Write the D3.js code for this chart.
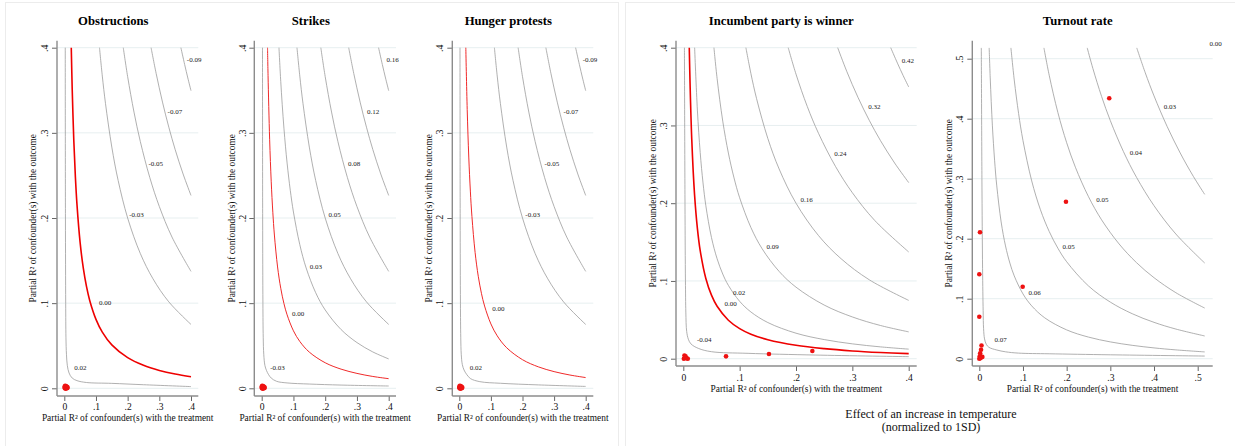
<!DOCTYPE html>
<html><head><meta charset="utf-8">
<script src="https://cdn.jsdelivr.net/npm/d3@7"></script>
<style>
html,body{margin:0;padding:0;background:#fff;}
svg{display:block;font-family:"Liberation Serif","Times New Roman",serif;}
</style></head><body>
<svg id="chart" width="1235" height="446"></svg>
<script>
// ---------------- DATA ----------------
const panelTitles = ["Obstructions", "Strikes", "Hunger protests", "Incumbent party is winner", "Turnout rate"];
const xAxisTitle = "Partial R\u00B2 of confounder(s) with the treatment";
const yAxisTitle = "Partial R\u00B2 of confounder(s) with the outcome";
const footerLines = ["Effect of an increase in temperature", "(normalized to 1SD)"];

const ticks04 = [0, 0.1, 0.2, 0.3, 0.4];
const tickLabels04 = ["0", ".1", ".2", ".3", ".4"];
const ticks05 = [0, 0.1, 0.2, 0.3, 0.4, 0.5];
const tickLabels05 = ["0", ".1", ".2", ".3", ".4", ".5"];

// contour lines shared by the four panels on the [0, .4] grid  ([r2 treatment, r2 outcome])
const gridContour1 = [[0.0544,0.4],[0.06,0.3603],[0.07,0.3056],[0.08,0.2645],[0.09,0.2326],[0.10,0.207],[0.12,0.1687],[0.14,0.1413],[0.17,0.1123],[0.20,0.092],[0.25,0.069],[0.30,0.0537],[0.35,0.0427],[0.40,0.0345]];
const gridContour2 = [[0.1111,0.4],[0.12,0.3667],[0.13,0.3346],[0.15,0.2833],[0.17,0.2441],[0.20,0.20],[0.24,0.1583],[0.28,0.1286],[0.33,0.1015],[0.40,0.075]];
const gridContour3 = [[0.1862,0.4],[0.20,0.366],[0.22,0.3244],[0.24,0.2898],[0.27,0.2474],[0.30,0.2135],[0.34,0.1776],[0.40,0.1373]];
const gridContour4 = [[0.274,0.4],[0.29,0.3697],[0.31,0.3361],[0.33,0.3066],[0.35,0.2804],[0.375,0.2517],[0.40,0.2265]];
const gridContour5 = [[0.3681,0.4],[0.38,0.3802],[0.39,0.3644],[0.40,0.3495]];

// Obstructions
const obstructionsNearAxis = [[0.003,0.4],[0.0036,0.2],[0.0044,0.1],[0.0052,0.06],[0.0068,0.04],[0.0095,0.027],[0.015,0.018],[0.025,0.012],[0.04,0.009],[0.07,0.0068],[0.15,0.0058],[0.25,0.0042],[0.4,0.002]];
const obstructionsZero = [[0.022,0.4],[0.025,0.351],[0.03,0.291],[0.035,0.2481],[0.04,0.216],[0.05,0.171],[0.06,0.141],[0.07,0.1196],[0.08,0.1035],[0.10,0.081],[0.12,0.066],[0.15,0.051],[0.20,0.036],[0.25,0.027],[0.30,0.021],[0.35,0.0167],[0.40,0.0135]];
const obstructionsLevels = ["0.02", "0.00", "-0.03", "-0.05", "-0.07", "-0.09"];
const obstructionsLabelPos = [[0.0504,0.0235],[0.129,0.1004],[0.228,0.204],[0.289,0.264],[0.349,0.324],[0.410,0.385]];
const obstructionsPoints = [[0.002,0.001],[0.004,0.0],[0.006,0.002],[0.008,0.0005],[0.003,0.0025],[0.009,0.001]];

// Strikes
const strikesNearAxis = [[0.0025,0.4],[0.003,0.2],[0.0038,0.1],[0.0048,0.06],[0.0065,0.04],[0.01,0.027],[0.015,0.021],[0.021,0.0165],[0.03,0.012],[0.047,0.0082],[0.08,0.0063],[0.15,0.005],[0.25,0.0038],[0.4,0.0027]];
const strikesZero = [[0.0184,0.4],[0.02,0.3675],[0.025,0.2925],[0.03,0.2425],[0.035,0.2068],[0.04,0.18],[0.05,0.1425],[0.06,0.1175],[0.07,0.0996],[0.08,0.0863],[0.10,0.0675],[0.12,0.055],[0.15,0.0425],[0.20,0.03],[0.25,0.0225],[0.30,0.0175],[0.35,0.0139],[0.40,0.0113]];
const strikesLevels = ["-0.03", "0.00", "0.03", "0.05", "0.08", "0.12", "0.16"];
const strikesLabelPos = [[0.050,0.0235],[0.115,0.0873],[0.171,0.143],[0.230,0.204],[0.291,0.264],[0.351,0.324],[0.412,0.385]];
const strikesPoints = [[0.001,0.001],[0.003,0.0],[0.005,0.002],[0.007,0.0005],[0.002,0.0025],[0.008,0.001]];

// Hunger protests
const hungerNearAxis = [[0.0022,0.4],[0.0028,0.2],[0.0036,0.1],[0.0046,0.06],[0.0062,0.04],[0.0095,0.028],[0.015,0.0215],[0.023,0.0165],[0.035,0.0115],[0.065,0.0078],[0.13,0.0059],[0.25,0.004],[0.4,0.0022]];
const hungerZero = [[0.0206,0.4],[0.025,0.3276],[0.03,0.2716],[0.035,0.2316],[0.04,0.2016],[0.05,0.1596],[0.06,0.1316],[0.07,0.1116],[0.08,0.0966],[0.10,0.0756],[0.12,0.0616],[0.15,0.0476],[0.20,0.0336],[0.25,0.0252],[0.30,0.0196],[0.35,0.0156],[0.40,0.0126]];
const hungerLevels = ["0.02", "0.00", "-0.03", "-0.05", "-0.07", "-0.09"];
const hungerLabelPos = [[0.0528,0.0235],[0.124,0.0933],[0.232,0.204],[0.293,0.264],[0.353,0.324],[0.4136,0.385]];
const hungerPoints = [[0.001,0.001],[0.003,0.0],[0.005,0.002],[0.007,0.0005],[0.002,0.0025],[0.008,0.001]];

// Incumbent party is winner
const incumbentNearAxis = [[0.002,0.4],[0.003,0.2],[0.0038,0.1],[0.0045,0.06],[0.006,0.035],[0.009,0.025],[0.0136,0.019],[0.0266,0.0133],[0.05,0.009],[0.115,0.0069],[0.234,0.0047],[0.4,0.0026]];
const incumbentZero = [[0.0106,0.4],[0.012,0.354],[0.015,0.2824],[0.02,0.2107],[0.025,0.1677],[0.03,0.139],[0.04,0.1032],[0.05,0.0817],[0.06,0.0674],[0.08,0.0495],[0.10,0.0387],[0.12,0.0315],[0.15,0.0244],[0.20,0.0172],[0.25,0.0129],[0.30,0.01],[0.35,0.008],[0.40,0.0065]];
const incumbentLow = [[0.0201,0.4],[0.025,0.3198],[0.03,0.2651],[0.035,0.2261],[0.04,0.1968],[0.05,0.1558],[0.06,0.1285],[0.07,0.1089],[0.08,0.0943],[0.10,0.0738],[0.12,0.0601],[0.15,0.0465],[0.20,0.0328],[0.25,0.0246],[0.30,0.0191],[0.35,0.0152],[0.40,0.0123]];
const incumbentLevels = ["-0.04", "0.00", "0.02", "0.09", "0.16", "0.24", "0.32", "0.42"];
const incumbentLabelPos = [[0.0373,0.024],[0.0841,0.070],[0.0989,0.0841],[0.1587,0.1441],[0.219,0.2037],[0.2787,0.2637],[0.339,0.324],[0.3984,0.3833]];
const incumbentPoints = [[0.001,0.0],[0.002,0.004],[0.004,0.003],[0.006,0.0005],[0.008,0.0],[0.003,0.001],[0.0758,0.003],[0.152,0.006],[0.229,0.0099]];

// Turnout rate
const turnoutNearAxis = [[0.0046,0.518],[0.006,0.3],[0.0075,0.15],[0.0088,0.08],[0.0098,0.05],[0.012,0.033],[0.016,0.024],[0.022,0.019],[0.04,0.0145],[0.06,0.0115],[0.09,0.0093],[0.16,0.0082],[0.3,0.0065],[0.516,0.0044]];
const turnoutContour1 = [[0.0226,0.518],[0.025,0.468],[0.03,0.388],[0.035,0.3309],[0.04,0.288],[0.05,0.228],[0.06,0.188],[0.07,0.1594],[0.08,0.138],[0.10,0.108],[0.12,0.088],[0.15,0.068],[0.20,0.048],[0.25,0.036],[0.30,0.028],[0.35,0.0223],[0.40,0.018],[0.45,0.0147],[0.516,0.0113]];
const turnoutContour2 = [[0.0724,0.518],[0.08,0.4646],[0.09,0.4085],[0.10,0.3636],[0.12,0.2963],[0.14,0.2482],[0.16,0.2121],[0.18,0.184],[0.20,0.1616],[0.25,0.1212],[0.30,0.0943],[0.35,0.075],[0.40,0.0606],[0.45,0.0494],[0.516,0.0379]];
const turnoutContour3 = [[0.148,0.518],[0.16,0.4725],[0.18,0.41],[0.20,0.36],[0.22,0.3191],[0.25,0.27],[0.28,0.2314],[0.32,0.1913],[0.36,0.16],[0.40,0.135],[0.45,0.11],[0.516,0.0844]];
const turnoutContour4 = [[0.2471,0.518],[0.26,0.4838],[0.28,0.4371],[0.30,0.3967],[0.33,0.3452],[0.36,0.3022],[0.40,0.255],[0.45,0.2078],[0.516,0.1595]];
const turnoutContour5 = [[0.3605,0.518],[0.38,0.4764],[0.40,0.438],[0.43,0.3871],[0.46,0.3428],[0.49,0.3039],[0.516,0.2739]];
const turnoutLevels = ["0.07", "0.06", "0.05", "0.05", "0.04", "0.03", "0.00"];
const turnoutLabelPos = [[0.049,0.0312],[0.1268,0.109],[0.2046,0.1867],[0.2815,0.2645],[0.3586,0.3423],[0.4364,0.4195],[0.541,0.524]];
const turnoutPoints = [[0.2975,0.434],[0.1984,0.2617],[0.0016,0.2107],[0.0,0.1407],[0.0993,0.12],[0.0,0.07],[0.005,0.022],[0.004,0.015],[0.002,0.009],[0.001,0.004],[0.007,0.003],[0.0,0.0],[0.003,0.001]];

// ---------------- PANELS (data + layout) ----------------
const panels = [
  { title: panelTitles[0], curves: [obstructionsNearAxis, obstructionsZero, gridContour2, gridContour3, gridContour4, gridContour5],
    redIndex: 1, redWidth: 1.6, redColor: "#ee0000", levels: obstructionsLevels, labelPos: obstructionsLabelPos, points: obstructionsPoints,
    ticks: ticks04, tickLabels: tickLabels04, xDom: [0, 0.4], xRange: [64.3, 191], yDom: [0, 0.4], yRange: [388.3, 47.7],
    left: 57, right: 198.3, top: 40.7, bottom: 396, yTickBase: 48.3, yTitleBase: 36, xTickBase: 410, xTitleBase: 420.5, titleX: 113.3, pr: 2.6 },
  { title: panelTitles[1], curves: [strikesNearAxis, strikesZero, gridContour1, gridContour2, gridContour3, gridContour4, gridContour5],
    redIndex: 1, redWidth: 1.0, redColor: "#f02a2a", levels: strikesLevels, labelPos: strikesLabelPos, points: strikesPoints,
    ticks: ticks04, tickLabels: tickLabels04, xDom: [0, 0.4], xRange: [261.7, 388.7], yDom: [0, 0.4], yRange: [388.3, 47.7],
    left: 254.3, right: 396, top: 40.7, bottom: 396, yTickBase: 245.7, yTitleBase: 234.5, xTickBase: 410, xTitleBase: 420.5, titleX: 310.8, pr: 2.6 },
  { title: panelTitles[2], curves: [hungerNearAxis, hungerZero, gridContour2, gridContour3, gridContour4, gridContour5],
    redIndex: 1, redWidth: 1.0, redColor: "#f02a2a", levels: hungerLevels, labelPos: hungerLabelPos, points: hungerPoints,
    ticks: ticks04, tickLabels: tickLabels04, xDom: [0, 0.4], xRange: [459.3, 585.7], yDom: [0, 0.4], yRange: [388.3, 47.7],
    left: 452.3, right: 593.3, top: 40.7, bottom: 396, yTickBase: 442.7, yTitleBase: 432, xTickBase: 410, xTitleBase: 420.5, titleX: 508.3, pr: 2.6 },
  { title: panelTitles[3], curves: [incumbentNearAxis, incumbentZero, incumbentLow, gridContour1, gridContour2, gridContour3, gridContour4, gridContour5],
    redIndex: 1, redWidth: 1.6, redColor: "#ee0000", levels: incumbentLevels, labelPos: incumbentLabelPos, points: incumbentPoints,
    ticks: ticks04, tickLabels: tickLabels04, xDom: [0, 0.4], xRange: [683.3, 908.7], yDom: [0, 0.4], yRange: [358.7, 47.7],
    left: 676, right: 916.7, top: 40.7, bottom: 366, yTickBase: 666.7, yTitleBase: 656, xTickBase: 380.5, xTitleBase: 391.5, titleX: 781.3, pr: 2.3 },
  { title: panelTitles[4], curves: [turnoutNearAxis, turnoutContour1, turnoutContour2, turnoutContour3, turnoutContour4, turnoutContour5],
    redIndex: -1, redWidth: 1, redColor: "#ee0000", levels: turnoutLevels, labelPos: turnoutLabelPos, points: turnoutPoints,
    ticks: ticks05, tickLabels: tickLabels05, xDom: [0, 0.5], xRange: [979.3, 1197.7], yDom: [0, 0.5], yRange: [358.7, 58.7],
    left: 972.3, right: 1212.7, top: 40.7, bottom: 366, yTickBase: 963.3, yTitleBase: 952, xTickBase: 380.5, xTitleBase: 391.5, titleX: 1077.7, pr: 2.3 }
];

// ---------------- DRAW ----------------
const svg = d3.select("#chart");
const GRAY_LINE = "#9c9c9c", GRID = "#e7eff0", AXIS = "#8c8c8c", RED_PT = "#ee1111";

// group frames
svg.append("rect").attr("x", 5.5).attr("y", 2.5).attr("width", 613).attr("height", 470)
  .attr("fill", "none").attr("stroke", "#ececec");
svg.append("rect").attr("x", 625.5).attr("y", 2.5).attr("width", 640).attr("height", 470)
  .attr("fill", "none").attr("stroke", "#ececec");

panels.forEach(p => {
  const x = d3.scaleLinear().domain(p.xDom).range(p.xRange);
  const y = d3.scaleLinear().domain(p.yDom).range(p.yRange);
  const g = svg.append("g");

  // gridlines
  g.selectAll("line.grid").data(p.ticks).join("line")
    .attr("x1", p.left).attr("x2", p.right)
    .attr("y1", d => y(d)).attr("y2", d => y(d))
    .attr("stroke", GRID).attr("stroke-width", 1);

  // contour lines
  const line = d3.line().x(d => x(d[0])).y(d => y(d[1])).curve(d3.curveCatmullRom.alpha(0.5));
  p.curves.forEach((c, i) => {
    const isRed = i === p.redIndex;
    g.append("path").attr("d", line(c)).attr("fill", "none")
      .attr("stroke", isRed ? p.redColor : GRAY_LINE)
      .attr("stroke-width", isRed ? p.redWidth : 0.8);
  });

  // contour labels
  g.selectAll("text.lvl").data(p.levels).join("text")
    .attr("x", (d, i) => x(p.labelPos[i][0]))
    .attr("y", (d, i) => y(p.labelPos[i][1]))
    .attr("text-anchor", "middle").attr("dominant-baseline", "central")
    .attr("font-size", 7).attr("fill", "#222").text(d => d);

  // axes
  const xAxis = d3.axisBottom(x).tickValues(p.ticks).tickFormat((d, i) => p.tickLabels[i]).tickSize(5).tickPadding(2);
  const gx = g.append("g").attr("transform", `translate(0,${p.bottom})`).call(xAxis);
  gx.select(".domain").remove();
  gx.selectAll(".tick line").attr("stroke", "#666").attr("stroke-width", 1);
  gx.selectAll(".tick text").attr("y", null).attr("dy", null)
    .attr("transform", `translate(0,${p.xTickBase - p.bottom})`)
    .attr("font-size", 9.6).attr("font-family", "Liberation Serif").attr("fill", "#111");

  const yAxis = d3.axisLeft(y).tickValues(p.ticks).tickFormat((d, i) => p.tickLabels[i]).tickSize(5);
  const gy = g.append("g").attr("transform", `translate(${p.left},0)`).call(yAxis);
  gy.select(".domain").remove();
  gy.selectAll(".tick line").attr("stroke", "#666").attr("stroke-width", 1);
  gy.selectAll(".tick text").attr("x", null).attr("dy", null)
    .attr("text-anchor", "middle")
    .attr("transform", `translate(${p.yTickBase - p.left},0) rotate(-90)`)
    .attr("font-size", 10).attr("font-family", "Liberation Serif").attr("fill", "#111");

  g.append("line").attr("x1", p.left).attr("x2", p.left).attr("y1", p.top).attr("y2", p.bottom)
    .attr("stroke", AXIS).attr("stroke-width", 1.4);
  g.append("line").attr("x1", p.left).attr("x2", p.right).attr("y1", p.bottom).attr("y2", p.bottom)
    .attr("stroke", AXIS).attr("stroke-width", 1.4);

  // points
  g.selectAll("circle").data(p.points).join("circle")
    .attr("cx", d => x(d[0])).attr("cy", d => y(d[1])).attr("r", p.pr).attr("fill", RED_PT);

  // titles
  g.append("text").attr("x", p.titleX).attr("y", 25).attr("text-anchor", "middle")
    .attr("font-size", 12.7).attr("font-weight", "bold").attr("fill", "#000").text(p.title);
  g.append("text").attr("x", (p.left + p.right) / 2).attr("y", p.xTitleBase).attr("text-anchor", "middle")
    .attr("font-size", 9.4).attr("fill", "#111").text(xAxisTitle);
  const yc = (p.top + p.bottom) / 2;
  g.append("text").attr("transform", `translate(${p.yTitleBase},${yc}) rotate(-90)`).attr("text-anchor", "middle")
    .attr("font-size", 9.4).attr("fill", "#111").text(yAxisTitle);
});

// footer
svg.selectAll("text.foot").data(footerLines).join("text")
  .attr("x", 931).attr("y", (d, i) => 417.8 + i * 13.4).attr("text-anchor", "middle")
  .attr("font-size", 12).attr("fill", "#111").text(d => d);
</script>
</body></html>
